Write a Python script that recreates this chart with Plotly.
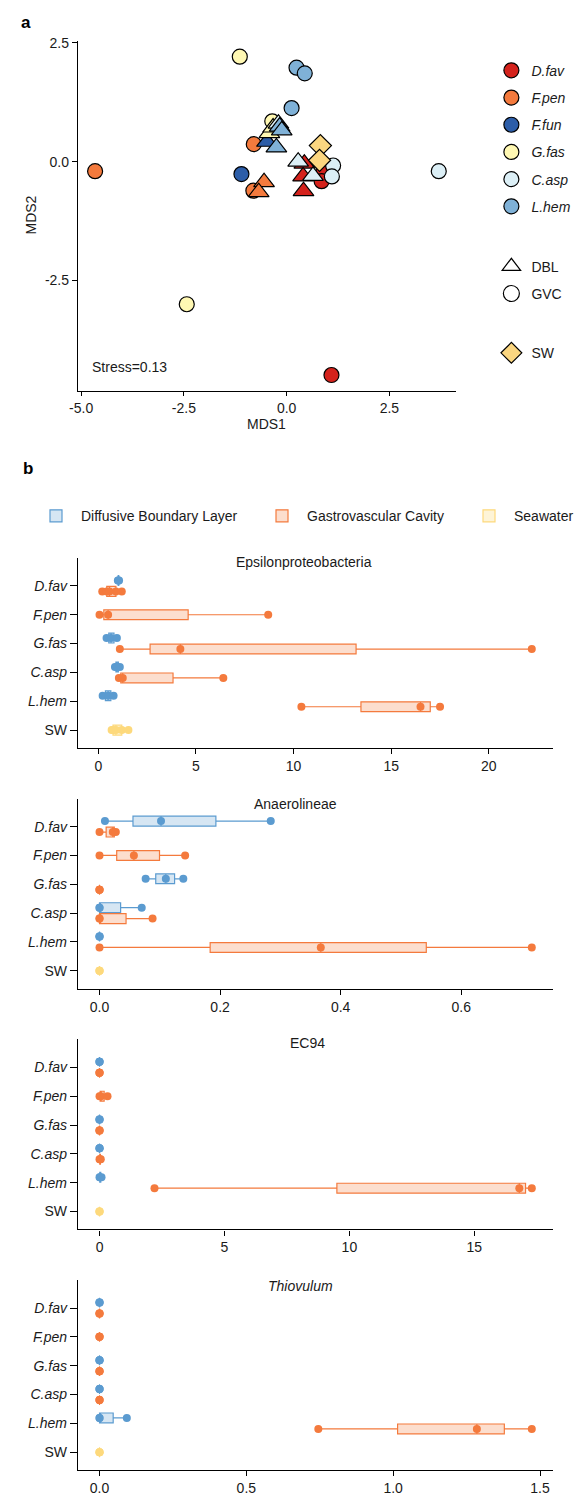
import plotly.graph_objects as go

W, H = 579, 1496

# ---------------- Panel a: NMDS ----------------
SPECIES_A = ["D.fav", "F.pen", "F.fun", "G.fas", "C.asp", "L.hem"]
SPECIES_COL = {"D.fav": "#D4221C", "F.pen": "#F47A3D", "F.fun": "#2C5DA8",
               "G.fas": "#FFF8B3", "C.asp": "#DCEFF6", "L.hem": "#7FB1D7"}
SW_COL = "#FBD680"

GVC_sp = ["F.pen", "G.fas", "G.fas", "F.fun", "F.pen", "F.pen", "D.fav", "C.asp",
          "L.hem", "L.hem", "L.hem", "G.fas", "C.asp", "C.asp", "D.fav", "D.fav"]
GVC_x = [-4.66, -2.43, -1.14, -1.10, -0.80, -0.81, 1.09, 3.70,
         0.24, 0.44, 0.12, -0.35, 1.13, 1.10, 0.90, 0.85]
GVC_y = [-0.20, -3.00, 2.21, -0.26, 0.37, -0.61, -4.49, -0.20,
         1.98, 1.86, 1.13, 0.85, -0.08, -0.31, -0.17, -0.41]

DBL_sp = ["C.asp", "G.fas", "G.fas", "F.fun", "L.hem", "L.hem", "L.hem",
          "F.pen", "F.pen", "C.asp", "C.asp", "D.fav", "D.fav", "D.fav"]
DBL_x = [-0.20, -0.42, -0.33, -0.48, -0.17, -0.12, -0.25,
         -0.55, -0.68, 0.28, 0.64, 0.43, 0.40, 0.41]
DBL_y = [0.80, 0.60, 0.72, 0.42, 0.74, 0.66, 0.30,
         -0.43, -0.64, 0.00, -0.30, -0.04, -0.31, -0.62]

SW_x = [0.82, 0.80]
SW_y = [0.34, 0.03]

A_XTICKS = [-5.0, -2.5, 0.0, 2.5]
A_XTEXT = ["-5.0", "-2.5", "0.0", "2.5"]
A_YTICKS = [-2.5, 0.0, 2.5]
A_YTEXT = ["-2.5", "0.0", "2.5"]
STRESS = "Stress=0.13"

# ---------------- Panel b: relative abundances ----------------
ROWS = ["D.fav", "F.pen", "G.fas", "C.asp", "L.hem", "SW"]
ROW_TEXT = ["<i>D.fav</i>", "<i>F.pen</i>", "<i>G.fas</i>", "<i>C.asp</i>", "<i>L.hem</i>", "SW"]

EPS_DBL = {"D.fav": [1.0, 1.03, 1.06], "G.fas": [0.42, 0.65, 0.95],
           "C.asp": [0.85, 0.95, 1.1], "L.hem": [0.22, 0.5, 0.78]}
EPS_GVC = {"D.fav": [0.2, 0.43, 0.57, 0.9, 1.2], "F.pen": [0.06, 0.5, 8.7],
           "G.fas": [1.1, 4.2, 22.2], "C.asp": [1.05, 1.25, 6.4], "L.hem": [10.4, 16.5, 17.5]}
EPS_SW = [0.68, 0.75, 0.9, 1.2, 1.54]

ANA_DBL = {"D.fav": [0.009, 0.102, 0.284], "G.fas": [0.0765, 0.11, 0.139],
           "C.asp": [0.0, 0.0, 0.07], "L.hem": [0.0, 0.0, 0.0]}
ANA_GVC = {"D.fav": [0.0, 0.022, 0.027], "F.pen": [0.0, 0.057, 0.142],
           "G.fas": [0.0, 0.0, 0.0], "C.asp": [0.0, 0.0, 0.088], "L.hem": [0.0, 0.367, 0.717]}
ANA_SW = [0.0, 0.0, 0.0]

EC_DBL = {"D.fav": [0.0, 0.0, 0.0], "G.fas": [0.0, 0.0, 0.0],
          "C.asp": [0.0, 0.0, 0.0], "L.hem": [0.0, 0.02, 0.08]}
EC_GVC = {"D.fav": [0.0, 0.0, 0.0], "F.pen": [0.0, 0.05, 0.32], "G.fas": [0.0, 0.0, 0.0],
          "C.asp": [0.0, 0.02, 0.05], "L.hem": [2.2, 16.8, 17.3]}
EC_SW = [0.0, 0.0, 0.0]

THI_DBL = {"D.fav": [0.0, 0.0, 0.0], "G.fas": [0.0, 0.0, 0.0],
           "C.asp": [0.0, 0.0, 0.0], "L.hem": [0.0, 0.0, 0.093]}
THI_GVC = {"D.fav": [0.0, 0.0, 0.0], "F.pen": [0.0, 0.0, 0.0], "G.fas": [0.0, 0.0, 0.0],
           "C.asp": [0.0, 0.0, 0.0], "L.hem": [0.745, 1.285, 1.472]}
THI_SW = [0.0, 0.0, 0.0]

TAXA = ["Epsilonproteobacteria", "Anaerolineae", "EC94", "<i>Thiovulum</i>"]
TAXA_DATA = [(EPS_DBL, EPS_GVC, EPS_SW), (ANA_DBL, ANA_GVC, ANA_SW),
             (EC_DBL, EC_GVC, EC_SW), (THI_DBL, THI_GVC, THI_SW)]
B_XTICKS = [[0, 5, 10, 15, 20], [0.0, 0.2, 0.4, 0.6], [0, 5, 10, 15], [0.0, 0.5, 1.0, 1.5]]
B_XTEXT = [["0", "5", "10", "15", "20"], ["0.0", "0.2", "0.4", "0.6"],
           ["0", "5", "10", "15"], ["0.0", "0.5", "1.0", "1.5"]]

HAB_NAMES = ["Diffusive Boundary Layer", "Gastrovascular Cavity", "Seawater"]
HAB_LINE = ["#5B9BD0", "#F47A3D", "#FDD97C"]
HAB_FILL = ["rgba(91,155,208,0.25)", "rgba(244,122,61,0.25)", "rgba(253,217,124,0.30)"]
HAB_LEGW = [171, 152, None]

# ---------------- layout helpers ----------------
FONT = "Liberation Sans, Arial, sans-serif"
TXT = "#1a1a1a"


def ydom(top, bottom):
    return [1 - bottom / H, 1 - top / H]


def xdom(left, right):
    return [left / W, right / W]


def py(p):
    return 1 - p / H


def px(p):
    return p / W


fig = go.Figure()

# ---- panel a traces ----
for sp in SPECIES_A:
    idx = [i for i, s in enumerate(GVC_sp) if s == sp]
    if idx:
        fig.add_trace(go.Scatter(
            x=[GVC_x[i] for i in idx], y=[GVC_y[i] for i in idx], mode="markers",
            marker=dict(symbol="circle", size=15, color=SPECIES_COL[sp],
                        line=dict(color="black", width=1.2)),
            showlegend=False, xaxis="x", yaxis="y"))
for sp in SPECIES_A:
    idx = [i for i, s in enumerate(DBL_sp) if s == sp]
    if idx:
        fig.add_trace(go.Scatter(
            x=[DBL_x[i] for i in idx], y=[DBL_y[i] for i in idx], mode="markers",
            marker=dict(symbol="triangle-up", size=18, color=SPECIES_COL[sp],
                        line=dict(color="black", width=1.2)),
            showlegend=False, xaxis="x", yaxis="y"))
fig.add_trace(go.Scatter(
    x=SW_x, y=SW_y, mode="markers",
    marker=dict(symbol="diamond", size=17, color=SW_COL, line=dict(color="black", width=1.2)),
    showlegend=False, xaxis="x", yaxis="y"))

# panel a legends (entries only)
for sp in SPECIES_A:
    fig.add_trace(go.Scatter(
        x=[None], y=[None], mode="markers", name=f"<i>{sp}</i>",
        marker=dict(symbol="circle", size=15, color=SPECIES_COL[sp],
                    line=dict(color="black", width=1.2)),
        legend="legend", legendgroup="sp_" + sp, xaxis="x", yaxis="y"))
for nm, sym in [("DBL", "triangle-up"), ("GVC", "circle")]:
    fig.add_trace(go.Scatter(
        x=[None], y=[None], mode="markers", name=nm,
        marker=dict(symbol=sym, size=16, color="white", line=dict(color="black", width=1.2)),
        legend="legend2", legendgroup="sh_" + nm, xaxis="x", yaxis="y"))
fig.add_trace(go.Scatter(
    x=[None], y=[None], mode="markers", name="SW",
    marker=dict(symbol="diamond", size=16, color=SW_COL, line=dict(color="black", width=1.2)),
    legend="legend3", xaxis="x", yaxis="y"))

# ---- panel b traces ----
OFF = 0.19
for k, (dbl, gvc, sw) in enumerate(TAXA_DATA):
    xa = "x%d" % (k + 2)
    ya = "y%d" % (k + 2)
    groups = [dbl, gvc, {"SW": sw}]
    for h, grp in enumerate(groups):
        xs, ys = [], []
        for sp, vals in grp.items():
            r = ROWS.index(sp)
            both = sp in dbl and sp in gvc
            pos = r + ((-OFF if h == 0 else OFF) if both else 0.0)
            xs += list(vals)
            ys += [pos] * len(vals)
        extra = {}
        if HAB_LEGW[h]:
            extra["legendwidth"] = HAB_LEGW[h]
        fig.add_trace(go.Box(
            x=xs, y=ys, orientation="h", name=HAB_NAMES[h],
            boxpoints="all", jitter=0, pointpos=0, quartilemethod="inclusive",
            width=0.34, whiskerwidth=0,
            line=dict(color=HAB_LINE[h], width=1.2), fillcolor=HAB_FILL[h],
            marker=dict(color=HAB_LINE[h], size=8, opacity=1),
            showlegend=(k == 0), legend="legend4", legendgroup="hab%d" % h,
            xaxis=xa, yaxis=ya, hoverinfo="x", **extra))

# ---------------- axes ----------------
axis_common = dict(showgrid=False, zeroline=False, showline=True, linecolor="black",
                   linewidth=1.2, ticks="outside", ticklen=5, tickwidth=1.1,
                   tickcolor="black", tickfont=dict(size=14, color=TXT, family=FONT),
                   mirror=False)

layout = dict(
    width=W, height=H, margin=dict(l=0, r=0, t=0, b=0),
    paper_bgcolor="white", plot_bgcolor="white",
    font=dict(family=FONT, color=TXT, size=14),
    boxmode="overlay",
)


def expand(lo, hi, f=0.05):
    s = hi - lo
    return [lo - f * s, hi + f * s]


allx = GVC_x + DBL_x + SW_x
ally = GVC_y + DBL_y + SW_y
layout["xaxis"] = dict(axis_common, domain=xdom(70, 454), range=expand(min(allx), max(allx)),
                       tickvals=A_XTICKS, ticktext=A_XTEXT, anchor="y", ticklen=4)
layout["yaxis"] = dict(axis_common, domain=ydom(35, 387), range=expand(min(ally), max(ally)),
                       tickvals=A_YTICKS, ticktext=A_YTEXT, anchor="x")

B_TOPS = [555, 797, 1039, 1281]
for k, (dbl, gvc, sw) in enumerate(TAXA_DATA):
    vals = [v for d in (dbl, gvc) for vs in d.values() for v in vs] + list(sw)
    top = B_TOPS[k]
    layout["xaxis%d" % (k + 2)] = dict(axis_common, domain=xdom(70, 553),
                                       range=expand(min(vals), max(vals)),
                                       tickvals=B_XTICKS[k], ticktext=B_XTEXT[k],
                                       anchor="y%d" % (k + 2))
    layout["yaxis%d" % (k + 2)] = dict(axis_common, domain=ydom(top, top + 191),
                                       range=[len(ROWS) - 1 + 0.62, -0.966],
                                       tickvals=list(range(len(ROWS))), ticktext=ROW_TEXT,
                                       anchor="x%d" % (k + 2), ticklen=7)

# ---------------- legends ----------------
leg_base = dict(bgcolor="rgba(0,0,0,0)", borderwidth=0, font=dict(size=14, color=TXT, family=FONT),
                xref="paper", yref="paper", xanchor="left", yanchor="top",
                traceorder="grouped", itemclick=False, itemdoubleclick=False)
layout["legend"] = dict(leg_base, x=px(490), y=py(49), tracegroupgap=6)
layout["legend2"] = dict(leg_base, x=px(490), y=py(246), tracegroupgap=6)
layout["legend3"] = dict(leg_base, x=px(490), y=py(333))
layout["legend4"] = dict(leg_base, x=px(25), y=py(513), yanchor="middle", orientation="h",
                         itemwidth=40)

# ---------------- annotations ----------------
ann = []
ann.append(dict(text="<b>a</b>", x=px(17.7), y=py(16.7), xref="paper", yref="paper",
                showarrow=False, font=dict(size=17, color="black"), xanchor="center", yanchor="middle"))
ann.append(dict(text="<b>b</b>", x=px(19), y=py(465), xref="paper", yref="paper",
                showarrow=False, font=dict(size=17, color="black"), xanchor="center", yanchor="middle"))
ann.append(dict(text="MDS2", x=px(22), y=py(210), xref="paper", yref="paper", textangle=-90,
                showarrow=False, font=dict(size=14), xanchor="center", yanchor="middle"))
ann.append(dict(text="MDS1", x=px(262), y=py(420), xref="paper", yref="paper",
                showarrow=False, font=dict(size=14), xanchor="center", yanchor="middle"))
ann.append(dict(text=STRESS, x=px(82), y=py(363), xref="paper", yref="paper",
                showarrow=False, font=dict(size=14), xanchor="left", yanchor="middle"))
TITLE_X = [300, 291, 303, 296]
TITLE_Y = [559, 802, 1043, 1287]
for k, t in enumerate(TAXA):
    ann.append(dict(text=t, x=px(TITLE_X[k]), y=py(TITLE_Y[k]), xref="paper", yref="paper",
                    showarrow=False, font=dict(size=14), xanchor="center", yanchor="middle"))
layout["annotations"] = ann

fig.update_layout(**layout)
fig.write_html("out.html")
